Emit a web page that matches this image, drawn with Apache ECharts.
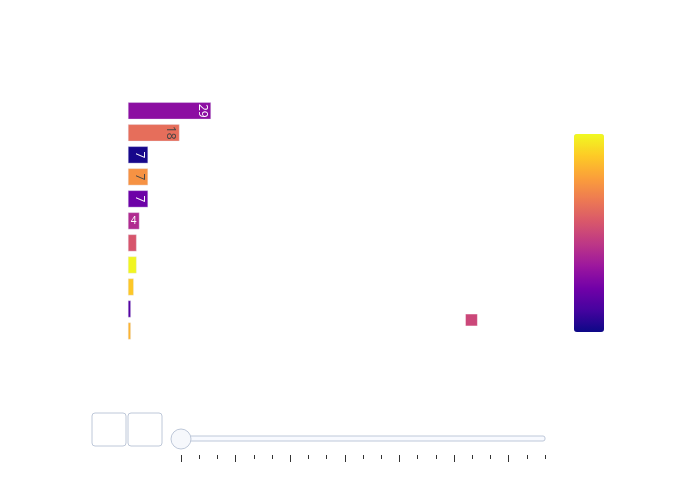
<!DOCTYPE html>
<html>
<head>
<meta charset="utf-8">
<script src="https://cdn.jsdelivr.net/npm/echarts@6/dist/echarts.min.js"></script>
<style>html,body{margin:0;padding:0;background:#fff}#chart{width:700px;height:500px}</style>
</head>
<body>
<div id="chart"></div>
<script>
// ---- data ----
var categories = ['c01','c02','c03','c04','c05','c06','c07','c08','c09','c10','c11'];
var barValues = [29, 18, 7, 7, 7, 4, 3, 3, 2, 1, 1];
var colorValues = [0.29, 0.63, 0.02, 0.74, 0.21, 0.40, 0.55, 0.99, 0.88, 0.15, 0.83];
var markerX = [120];
var markerY = [10];
var markerColor = [0.50];
var sliderSteps = ['0','1','2','3','4','5','6','7','8','9','10','11','12','13','14','15','16','17','18','19','20'];
var plasma = ['#0d0887','#46039f','#7201a8','#9c179e','#bd3786','#d8576b','#ed7953','#fb9f3a','#fdca26','#f0f921'];

// ---- build ----
var barData = barValues.map(function (v, i) {
  var dark = colorValues[i] < 0.6;
  var lbl;
  if (v >= 5) {
    lbl = { show: true, position: 'insideRight', rotate: -90, align: 'center', verticalAlign: 'top',
            distance: 3, fontSize: 12, color: dark ? '#ffffff' : '#444444' };
  } else if (v >= 4) {
    lbl = { show: true, position: 'inside', rotate: 0, fontSize: 10, color: dark ? '#ffffff' : '#444444' };
  } else {
    lbl = { show: false };
  }
  return { value: [v, categories[i], colorValues[i]], label: lbl };
});
var markerData = markerX.map(function (x, i) { return [x, markerY[i], markerColor[i]]; });

var chart = echarts.init(document.getElementById('chart'));
chart.setOption({
  animation: false,
  backgroundColor: '#ffffff',
  textStyle: { fontFamily: 'Open Sans' },
  grid: [
    { left: 128, top: 99.8, height: 242.2, width: 429.3, containLabel: false },
    { left: 181, top: 440, height: 15, width: 364 },
    { left: 181, top: 440, height: 15, width: 364 }
  ],
  xAxis: [
    { gridIndex: 0, type: 'value', min: 0, max: 150, show: false },
    { gridIndex: 1, type: 'category', data: sliderSteps, boundaryGap: false, position: 'bottom',
      axisLine: { show: false }, axisLabel: { show: false }, splitLine: { show: false },
      axisTick: { show: true, interval: 0, length: 4, lineStyle: { color: '#333333', width: 1 } } },
    { gridIndex: 2, type: 'category', data: sliderSteps, boundaryGap: false, position: 'bottom',
      axisLine: { show: false }, axisLabel: { show: false }, splitLine: { show: false },
      axisTick: { show: true, interval: 2, length: 7, lineStyle: { color: '#333333', width: 1 } } }
  ],
  yAxis: [
    { gridIndex: 0, type: 'category', data: categories, inverse: true, show: false },
    { gridIndex: 0, type: 'value', min: 0, max: 11, inverse: true, show: false },
    { gridIndex: 1, type: 'value', show: false },
    { gridIndex: 2, type: 'value', show: false }
  ],
  visualMap: {
    type: 'continuous',
    min: 0, max: 1,
    dimension: 2,
    seriesIndex: [0, 1],
    inRange: { color: plasma },
    left: 559, top: 119,
    itemWidth: 30, itemHeight: 198,
    calculable: false,
    showLabel: false,
    text: null
  },
  graphic: [
    { type: 'rect', shape: { x: 92, y: 413, width: 34, height: 33, r: 3 },
      style: { fill: '#ffffff', stroke: '#bec8d9', lineWidth: 1 } },
    { type: 'rect', shape: { x: 128, y: 413, width: 34, height: 33, r: 3 },
      style: { fill: '#ffffff', stroke: '#bec8d9', lineWidth: 1 } },
    { type: 'rect', shape: { x: 181, y: 436, width: 364, height: 5, r: 2 },
      style: { fill: '#f8faff', stroke: '#bec8d9', lineWidth: 1 } },
    { type: 'circle', shape: { cx: 181, cy: 439, r: 10 },
      style: { fill: '#f6f8fc', stroke: '#bec8d9', lineWidth: 1 } }
  ],
  series: [
    { type: 'bar', xAxisIndex: 0, yAxisIndex: 0, encode: { x: 0, y: 1 },
      barWidth: 17, data: barData,
      itemStyle: { borderColor: 'rgba(229,236,246,0.7)', borderWidth: 0.5 } },
    { type: 'scatter', xAxisIndex: 0, yAxisIndex: 1, encode: { x: 0, y: 1 },
      symbol: 'rect', symbolSize: 12, data: markerData,
      itemStyle: { borderColor: 'rgba(255,255,255,0.5)', borderWidth: 1, opacity: 1 } }
  ]
});
</script>
</body>
</html>
